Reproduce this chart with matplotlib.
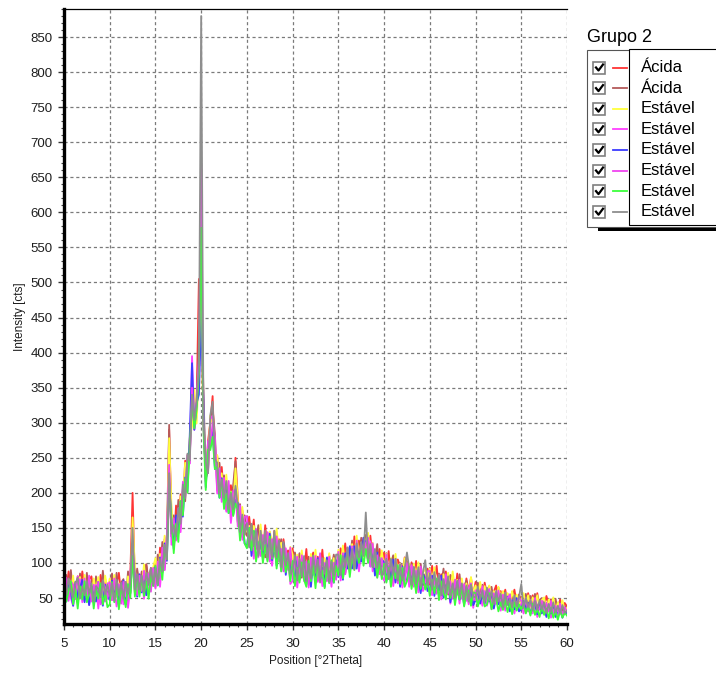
"""
XRD patterns, Grupo 2
"""

import matplotlib

matplotlib.use("Agg")
import matplotlib.pyplot as plt
from matplotlib.patches import Rectangle
from matplotlib.lines import Line2D
from matplotlib.ticker import MultipleLocator

plt.rcParams["font.family"] = ["Liberation Sans", "DejaVu Sans"]

W, H = 716, 691

# position [deg 2theta], one row per 5 degrees
two_theta = [
    5.0, 5.25, 5.5, 5.75, 6.0, 6.25, 6.5, 6.75, 7.0, 7.25, 7.5, 7.75, 8.0, 8.25, 8.5, 8.75, 9.0, 9.25, 9.5, 9.75,
    10.0, 10.25, 10.5, 10.75, 11.0, 11.25, 11.5, 11.75, 12.0, 12.25, 12.5, 12.75, 13.0, 13.25, 13.5, 13.75, 14.0, 14.25, 14.5, 14.75,
    15.0, 15.25, 15.5, 15.75, 16.0, 16.25, 16.5, 16.75, 17.0, 17.25, 17.5, 17.75, 18.0, 18.25, 18.5, 18.75, 19.0, 19.25, 19.5, 19.75,
    20.0, 20.25, 20.5, 20.75, 21.0, 21.25, 21.5, 21.75, 22.0, 22.25, 22.5, 22.75, 23.0, 23.25, 23.5, 23.75, 24.0, 24.25, 24.5, 24.75,
    25.0, 25.25, 25.5, 25.75, 26.0, 26.25, 26.5, 26.75, 27.0, 27.25, 27.5, 27.75, 28.0, 28.25, 28.5, 28.75, 29.0, 29.25, 29.5, 29.75,
    30.0, 30.25, 30.5, 30.75, 31.0, 31.25, 31.5, 31.75, 32.0, 32.25, 32.5, 32.75, 33.0, 33.25, 33.5, 33.75, 34.0, 34.25, 34.5, 34.75,
    35.0, 35.25, 35.5, 35.75, 36.0, 36.25, 36.5, 36.75, 37.0, 37.25, 37.5, 37.75, 38.0, 38.25, 38.5, 38.75, 39.0, 39.25, 39.5, 39.75,
    40.0, 40.25, 40.5, 40.75, 41.0, 41.25, 41.5, 41.75, 42.0, 42.25, 42.5, 42.75, 43.0, 43.25, 43.5, 43.75, 44.0, 44.25, 44.5, 44.75,
    45.0, 45.25, 45.5, 45.75, 46.0, 46.25, 46.5, 46.75, 47.0, 47.25, 47.5, 47.75, 48.0, 48.25, 48.5, 48.75, 49.0, 49.25, 49.5, 49.75,
    50.0, 50.25, 50.5, 50.75, 51.0, 51.25, 51.5, 51.75, 52.0, 52.25, 52.5, 52.75, 53.0, 53.25, 53.5, 53.75, 54.0, 54.25, 54.5, 54.75,
    55.0, 55.25, 55.5, 55.75, 56.0, 56.25, 56.5, 56.75, 57.0, 57.25, 57.5, 57.75, 58.0, 58.25, 58.5, 58.75, 59.0, 59.25, 59.5, 59.75,
    60.0,
]

# intensity [cts]
acida_1 = [
    82, 57, 88, 64, 71, 49, 81, 61, 88, 66, 52, 76, 81, 57, 71, 49, 83, 63, 77, 55,
    61, 83, 54, 70, 86, 56, 47, 73, 68, 84, 200, 72, 88, 60, 84, 75, 98, 69, 93, 79,
    102, 72, 122, 98, 134, 105, 290, 166, 124, 182, 158, 198, 182, 246, 218, 274, 332, 302, 328, 505,
    450, 310, 216, 274, 301, 338, 242, 253, 211, 237, 193, 215, 179, 211, 183, 250, 194, 154, 175, 146,
    139, 166, 136, 162, 120, 144, 148, 112, 154, 120, 134, 106, 146, 118, 134, 102, 134, 107, 118, 92,
    121, 87, 105, 76, 109, 90, 120, 79, 100, 115, 80, 109, 88, 119, 80, 100, 111, 74, 108, 98,
    94, 121, 102, 128, 96, 120, 94, 138, 112, 132, 106, 136, 135, 118, 139, 104, 118, 89, 120, 95,
    115, 90, 117, 82, 101, 76, 105, 96, 79, 108, 102, 72, 101, 82, 103, 74, 91, 68, 82, 92,
    69, 96, 75, 96, 61, 84, 65, 88, 55, 78, 83, 56, 85, 60, 71, 50, 78, 59, 79, 54,
    73, 54, 66, 49, 72, 55, 67, 48, 59, 68, 43, 60, 47, 62, 42, 55, 49, 62, 42, 55,
    46, 54, 40, 57, 43, 54, 36, 57, 39, 48, 36, 53, 41, 48, 32, 45, 35, 48, 32, 43,
    38,
]
acida_2 = [
    52, 83, 62, 90, 55, 73, 43, 85, 64, 50, 86, 56, 75, 43, 81, 61, 51, 89, 57, 69,
    53, 85, 58, 86, 46, 72, 77, 43, 88, 58, 150, 56, 92, 66, 88, 61, 98, 75, 91, 69,
    72, 112, 88, 130, 94, 139, 297, 138, 168, 140, 190, 158, 206, 188, 254, 254, 334, 304, 330, 420,
    470, 342, 220, 232, 305, 320, 284, 211, 243, 201, 225, 179, 211, 183, 211, 245, 158, 184, 149, 168,
    139, 158, 122, 144, 134, 154, 120, 138, 108, 130, 144, 118, 112, 134, 116, 134, 96, 113, 96, 116,
    89, 115, 93, 114, 79, 102, 84, 109, 78, 103, 110, 83, 112, 87, 98, 78, 107, 90, 112, 90,
    112, 87, 108, 86, 122, 102, 132, 92, 122, 106, 136, 114, 140, 132, 101, 126, 104, 127, 90, 109,
    93, 114, 85, 100, 111, 84, 77, 100, 93, 104, 96, 80, 99, 70, 91, 80, 99, 70, 84, 74,
    93, 67, 82, 58, 85, 69, 92, 58, 73, 83, 53, 76, 59, 84, 52, 67, 75, 44, 69, 59,
    53, 72, 56, 69, 46, 63, 51, 66, 45, 56, 65, 44, 59, 38, 56, 45, 59, 40, 52, 37,
    52, 38, 56, 39, 53, 40, 56, 33, 47, 50, 36, 43, 31, 48, 36, 49, 31, 44, 32, 39,
    35,
]
estavel_1 = [
    89, 54, 77, 59, 82, 50, 74, 80, 53, 83, 59, 71, 50, 78, 60, 80, 56, 54, 82, 62,
    78, 56, 83, 51, 71, 45, 74, 60, 81, 57, 165, 93, 57, 83, 67, 98, 65, 86, 66, 94,
    107, 79, 113, 87, 139, 122, 278, 181, 131, 163, 141, 195, 189, 243, 215, 279, 295, 347, 299, 375,
    440, 303, 251, 237, 310, 300, 251, 254, 210, 228, 190, 226, 184, 202, 182, 235, 191, 151, 180, 143,
    146, 153, 117, 153, 141, 119, 155, 121, 139, 109, 145, 129, 109, 149, 115, 129, 91, 116, 93, 123,
    112, 80, 112, 91, 118, 83, 99, 78, 113, 90, 119, 84, 103, 74, 107, 91, 114, 87, 107, 85,
    119, 96, 125, 93, 119, 93, 127, 109, 139, 107, 129, 109, 130, 143, 110, 129, 91, 114, 93, 118,
    92, 113, 82, 107, 92, 113, 82, 99, 78, 107, 91, 99, 70, 99, 80, 101, 74, 87, 91, 69,
    92, 73, 94, 63, 80, 57, 84, 65, 86, 59, 88, 65, 76, 51, 78, 55, 71, 50, 80, 57,
    68, 51, 73, 56, 67, 46, 68, 51, 60, 45, 66, 51, 60, 39, 57, 42, 60, 45, 55, 40,
    45, 57, 41, 54, 36, 51, 41, 54, 36, 47, 51, 32, 48, 37, 51, 32, 44, 33, 47, 32,
    36,
]
estavel_2 = [
    46, 65, 76, 50, 39, 69, 53, 77, 44, 58, 72, 40, 63, 49, 69, 35, 65, 59, 45, 71,
    71, 47, 64, 38, 58, 68, 41, 73, 36, 64, 120, 58, 80, 58, 78, 49, 76, 55, 89, 69,
    66, 98, 66, 106, 90, 141, 230, 126, 154, 134, 178, 144, 198, 194, 254, 242, 395, 290, 322, 360,
    670, 290, 244, 228, 305, 310, 276, 199, 223, 187, 221, 173, 207, 157, 189, 200, 152, 172, 133, 156,
    159, 124, 144, 106, 134, 108, 140, 114, 142, 104, 128, 96, 132, 106, 132, 88, 108, 87, 110, 70,
    75, 101, 65, 92, 103, 74, 98, 65, 94, 83, 110, 73, 96, 67, 100, 76, 89, 66, 100, 84,
    104, 75, 102, 84, 118, 94, 118, 90, 116, 88, 116, 128, 122, 104, 131, 88, 108, 79, 106, 81,
    75, 96, 77, 102, 67, 90, 77, 96, 65, 84, 92, 66, 95, 68, 85, 58, 79, 60, 70, 78,
    77, 54, 79, 60, 81, 48, 67, 52, 75, 42, 65, 50, 69, 42, 65, 50, 62, 41, 59, 36,
    61, 44, 54, 39, 60, 39, 53, 34, 53, 42, 53, 32, 45, 32, 52, 33, 41, 28, 46, 33,
    42, 28, 42, 31, 45, 28, 42, 23, 37, 30, 40, 25, 41, 22, 32, 35, 23, 36, 24, 31,
    27,
]
estavel_3 = [
    70, 45, 72, 58, 39, 73, 51, 63, 76, 44, 64, 40, 67, 59, 45, 73, 51, 39, 69, 53,
    47, 75, 50, 68, 40, 60, 75, 41, 64, 56, 115, 82, 52, 84, 58, 75, 54, 85, 65, 91,
    94, 68, 108, 86, 128, 103, 215, 158, 120, 168, 142, 188, 166, 222, 202, 282, 385, 290, 328, 340,
    450, 326, 208, 266, 269, 290, 234, 237, 193, 221, 189, 209, 171, 197, 169, 190, 186, 140, 163, 128,
    123, 150, 110, 140, 148, 114, 130, 106, 138, 116, 142, 104, 126, 96, 128, 98, 128, 83, 110, 90,
    99, 73, 105, 78, 91, 106, 70, 97, 66, 103, 82, 107, 76, 93, 66, 108, 73, 96, 72, 104,
    80, 105, 76, 114, 92, 124, 92, 124, 92, 116, 102, 136, 128, 130, 95, 116, 82, 115, 88, 105,
    101, 74, 95, 76, 105, 72, 93, 66, 95, 76, 76, 94, 69, 94, 63, 82, 57, 84, 78, 60,
    61, 82, 53, 76, 61, 82, 51, 68, 75, 44, 69, 54, 73, 48, 63, 40, 66, 47, 67, 40,
    47, 62, 42, 57, 42, 61, 45, 56, 35, 52, 41, 54, 35, 46, 52, 31, 47, 34, 50, 31,
    34, 46, 34, 43, 27, 40, 44, 27, 41, 28, 38, 23, 41, 28, 38, 23, 35, 36, 22, 31,
    28,
]
estavel_4 = [
    62, 79, 46, 74, 69, 49, 81, 53, 60, 78, 50, 82, 45, 69, 53, 73, 41, 75, 65, 49,
    73, 47, 78, 52, 70, 42, 73, 53, 48, 84, 125, 80, 54, 82, 60, 89, 66, 85, 59, 93,
    64, 102, 80, 122, 90, 139, 240, 138, 164, 132, 176, 150, 216, 196, 250, 242, 350, 292, 334, 390,
    522, 306, 220, 274, 265, 300, 276, 203, 235, 191, 221, 175, 217, 173, 203, 205, 160, 182, 137, 166,
    167, 124, 146, 114, 148, 122, 110, 140, 114, 144, 102, 134, 116, 138, 102, 120, 88, 121, 90, 122,
    77, 103, 109, 78, 111, 82, 102, 69, 108, 89, 104, 75, 114, 81, 94, 74, 109, 80, 100, 76,
    116, 87, 114, 84, 110, 86, 124, 100, 132, 98, 128, 112, 128, 136, 95, 128, 94, 111, 84, 107,
    83, 112, 85, 104, 77, 106, 71, 98, 91, 70, 100, 74, 97, 66, 89, 68, 95, 72, 72, 88,
    89, 66, 83, 56, 83, 66, 55, 84, 57, 74, 49, 76, 55, 76, 49, 70, 46, 65, 71, 48,
    47, 64, 50, 67, 46, 57, 63, 40, 57, 42, 61, 42, 55, 36, 50, 55, 33, 50, 40, 51,
    46, 36, 50, 31, 47, 36, 50, 33, 35, 46, 28, 43, 31, 46, 28, 39, 31, 42, 24, 37,
    31,
]
estavel_5 = [
    74, 45, 60, 74, 41, 63, 35, 67, 48, 74, 44, 56, 67, 35, 63, 49, 71, 41, 59, 37,
    41, 73, 44, 66, 34, 62, 55, 37, 70, 50, 110, 52, 82, 52, 80, 53, 74, 49, 83, 67,
    96, 68, 102, 76, 122, 105, 210, 164, 114, 156, 130, 188, 168, 220, 200, 266, 330, 292, 318, 370,
    578, 290, 204, 262, 261, 280, 234, 237, 193, 219, 177, 199, 171, 201, 167, 185, 176, 132, 163, 128,
    121, 150, 118, 146, 102, 128, 134, 100, 126, 102, 138, 106, 130, 92, 120, 88, 120, 87, 102, 74,
    103, 67, 93, 72, 101, 76, 66, 103, 74, 97, 64, 101, 76, 89, 64, 96, 71, 104, 72, 96,
    82, 111, 78, 102, 112, 80, 110, 90, 122, 100, 122, 96, 120, 100, 123, 94, 112, 79, 102, 77,
    99, 72, 93, 66, 93, 78, 97, 70, 93, 66, 74, 92, 63, 84, 57, 86, 63, 82, 62, 74,
    53, 76, 57, 78, 47, 74, 57, 48, 75, 50, 67, 40, 63, 48, 65, 38, 58, 61, 39, 58,
    57, 38, 52, 57, 38, 41, 57, 34, 49, 50, 31, 44, 33, 48, 30, 43, 27, 44, 32, 41,
    34, 42, 28, 39, 25, 42, 26, 35, 23, 38, 26, 35, 21, 36, 22, 31, 19, 32, 22, 29,
    25,
]
estavel_6 = [
    72, 55, 78, 60, 51, 71, 79, 49, 66, 54, 74, 56, 71, 45, 67, 63, 51, 75, 55, 69,
    53, 71, 46, 76, 54, 72, 49, 73, 56, 72, 150, 62, 84, 62, 82, 59, 86, 69, 93, 69,
    92, 70, 106, 88, 126, 105, 228, 142, 154, 138, 178, 156, 212, 192, 256, 246, 340, 304, 330, 380,
    880, 302, 244, 228, 311, 330, 248, 243, 199, 219, 193, 217, 177, 199, 177, 210, 182, 144, 169, 140,
    157, 122, 156, 124, 146, 110, 146, 118, 146, 108, 134, 108, 146, 108, 132, 94, 130, 97, 114, 84,
    91, 111, 75, 106, 81, 110, 74, 99, 78, 111, 86, 105, 72, 107, 86, 104, 73, 102, 82, 112,
    112, 83, 110, 94, 122, 92, 120, 92, 128, 108, 130, 110, 172, 106, 127, 94, 120, 93, 108, 83,
    85, 106, 77, 106, 83, 106, 75, 98, 75, 92, 115, 92, 69, 94, 71, 94, 67, 86, 104, 68,
    85, 62, 87, 64, 83, 54, 77, 58, 81, 54, 71, 50, 75, 54, 71, 48, 68, 45, 69, 52,
    51, 66, 48, 61, 44, 65, 47, 60, 41, 60, 45, 56, 37, 58, 40, 49, 37, 54, 38, 51,
    70, 36, 50, 37, 47, 32, 46, 33, 47, 34, 44, 29, 41, 30, 44, 29, 39, 28, 40, 29,
    32,
]

series = [acida_1, acida_2, estavel_1, estavel_2, estavel_3, estavel_4, estavel_5, estavel_6]
labels = ["Ácida", "Ácida", "Estável", "Estável", "Estável", "Estável", "Estável", "Estável"]
colors = ["#ff3434", "#b45a5a", "#ffff3c", "#ff40ff", "#3c3cff", "#f044f0", "#3cff3c", "#8e8e8e"]


def fpos(x, y):
    """pixel (from top left) -> figure fraction"""
    return x / W, 1 - y / H


fig = plt.figure(figsize=(W / 100, H / 100), dpi=100)
ax = fig.add_axes([64 / W, 1 - 624 / H, (567 - 64) / W, (624 - 9) / H])

for ys, c in zip(series, colors):
    ax.plot(two_theta, ys, color=c, lw=1.3)

ax.set_xlim(5, 60)
ax.set_ylim(13, 890)
ax.xaxis.set_major_locator(MultipleLocator(5))
ax.xaxis.set_minor_locator(MultipleLocator(1))
ax.yaxis.set_minor_locator(MultipleLocator(10))
ax.set_yticks(range(50, 851, 50))

ax.grid(True, which="major", color="#7a7a7a", lw=0.9, linestyle=(0, (2.5, 2.2)))
ax.set_axisbelow(True)

for side in ["left", "bottom"]:
    ax.spines[side].set_linewidth(2.4)
    ax.spines[side].set_color("black")
ax.spines["top"].set_linewidth(0.9)
ax.spines["right"].set_visible(False)

ax.tick_params(which="major", direction="out", length=4, width=1, color="#333333",
               labelsize=9.5, labelcolor="#1e1e1e", pad=4)
ax.tick_params(which="minor", direction="out", length=2.5, width=0.8, color="#444444")
ax.tick_params(axis="x", pad=6)

ax.set_xlabel("Position [°2Theta]", fontsize=8.5, color="#1e1e1e")
ax.set_ylabel("Intensity [cts]", fontsize=8.5, color="#1e1e1e")
ax.xaxis.set_label_coords(0.5, -0.05)
ax.yaxis.set_label_coords(-0.075, 0.5)

# legend panel, drawn by hand like the original
fig.text(*fpos(587, 38), "Grupo 2", fontsize=13, va="center", ha="left", color="black")
x0, y0 = fpos(587, 227)
fig.add_artist(Rectangle((x0, y0), 140 / W, 177 / H, transform=fig.transFigure,
                         facecolor="white", edgecolor="#555555", lw=0.8))
x0, y0 = fpos(629, 225)
fig.add_artist(Rectangle((x0, y0), 100 / W, 176 / H, transform=fig.transFigure,
                         facecolor="white", edgecolor="black", lw=0.8))
x0, y0 = fpos(598, 231)
fig.add_artist(Rectangle((x0, y0), 120 / W, 3 / H, transform=fig.transFigure,
                         facecolor="black", edgecolor="none"))

for i, (lab, c) in enumerate(zip(labels, colors)):
    yc = 67.5 + i * 20.6
    bx, by = fpos(593, yc + 6)
    fig.add_artist(Rectangle((bx, by), 12 / W, 12 / H, transform=fig.transFigure,
                             facecolor="white", edgecolor="#7f7f7f", lw=1.2))
    ck = [fpos(596, yc), fpos(598.5, yc + 3), fpos(603, yc - 3)]
    fig.add_artist(Line2D([p[0] for p in ck], [p[1] for p in ck], transform=fig.transFigure,
                          color="black", lw=1.6))
    l0, l1 = fpos(613, yc), fpos(627, yc)
    fig.add_artist(Line2D([l0[0], l1[0]], [l0[1], l1[1]], transform=fig.transFigure,
                          color=c, lw=1.3))
    fig.text(*fpos(641, yc), lab, fontsize=12, va="center", ha="left", color="black")

fig.savefig("out.png", dpi=100)
